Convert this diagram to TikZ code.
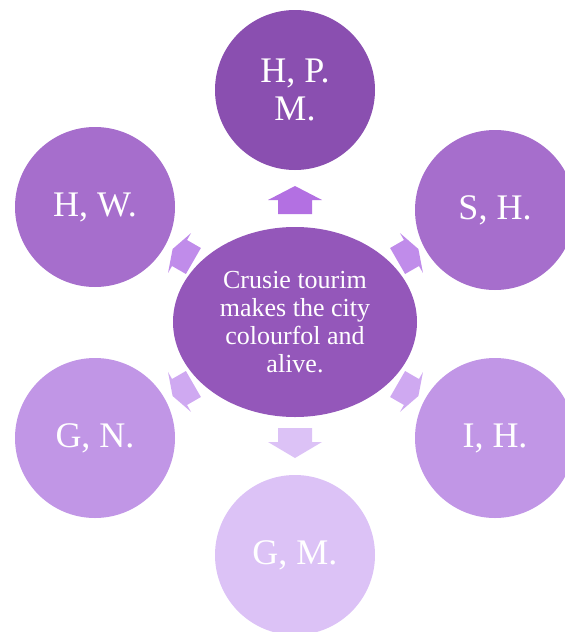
\documentclass[tikz,border=0pt]{standalone}
\usepackage{fontspec}
\setmainfont{Liberation Serif}
\usetikzlibrary{shapes.geometric}

\definecolor{cTop}{HTML}{8A4FB0}
\definecolor{cHigh}{HTML}{A66ECC}
\definecolor{cLow}{HTML}{C196E6}
\definecolor{cBottom}{HTML}{DCC2F6}
\definecolor{cCentre}{HTML}{9457BA}
\definecolor{aTop}{HTML}{B370E2}
\definecolor{aHigh}{HTML}{C08CEA}
\definecolor{aLow}{HTML}{CFA9F1}
\definecolor{aBottom}{HTML}{DCC2F6}

\tikzset{
  petal/.style={circle, minimum size=160pt, inner sep=0pt, text=white,
    font=\fontsize{36}{38}\selectfont, align=center},
  hub/.style={ellipse, minimum width=244pt, minimum height=190pt, inner sep=0pt,
    fill=cCentre, text=white, align=center,
    font=\fontsize{26}{28}\selectfont},
  % block arrow along local +x: #1 length, #2 head width, #3 shaft width, #4 head length
  pics/blockarrow/.style n args={4}{
    code={
      \fill (-#1/2,-#3/2) -- (#1/2-#4,-#3/2) -- (#1/2-#4,-#2/2) -- (#1/2,0)
        -- (#1/2-#4,#2/2) -- (#1/2-#4,#3/2) -- (-#1/2,#3/2) -- cycle;
    }
  }
}

\begin{document}
\begin{tikzpicture}[x=1pt,y=-1pt]
  \useasboundingbox (0,0) rectangle (565,632);
  \begin{scope}
    \clip (0,0) rectangle (565,632);

    % outer circles
    \node[petal, fill=cTop]    (hpm) at (295,90)  {H, P.\\M.};
    \node[petal, fill=cHigh]   (sh)  at (495,210) {S, H.};
    \node[petal, fill=cLow]    (ih)  at (495,438) {I, H.};
    \node[petal, fill=cBottom] (gm)  at (295,555) {G, M.};
    \node[petal, fill=cLow]    (gn)  at (95,438)  {G, N.};
    \node[petal, fill=cHigh]   (hw)  at (95,207)  {H, W.};

    % central statement
    \node[hub] (hub) at (295,322)
      {Crusie tourim\\makes the city\\colourfol and\\alive.};

    % block arrows pointing outwards
    \pic[fill=aTop, rotate=90]     (up)   at (295,200) {blockarrow={28}{54}{34}{14}};
    \pic[fill=aBottom, rotate=-90] (down) at (295,443) {blockarrow={30}{54}{34}{16}};
    \pic[fill=aHigh, rotate=150]   (ul)   at (183,255) {blockarrow={24}{46}{30}{8}};
    \pic[fill=aHigh, rotate=30]    (ur)   at (408,255) {blockarrow={24}{46}{30}{8}};
    \pic[fill=aLow, rotate=-150]   (dl)   at (183,390) {blockarrow={24}{46}{30}{8}};
    \pic[fill=aLow, rotate=-30]    (dr)   at (408,390) {blockarrow={24}{46}{30}{8}};
  \end{scope}
\end{tikzpicture}
\end{document}
